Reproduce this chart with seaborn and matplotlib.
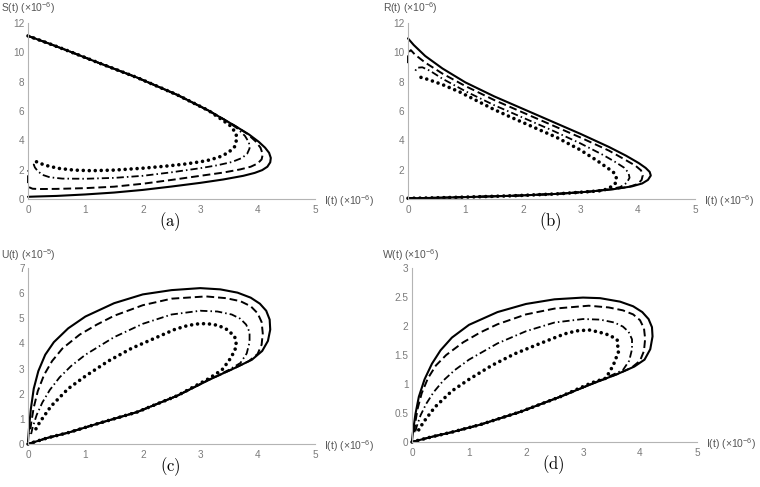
import matplotlib
matplotlib.use("Agg")
import matplotlib.pyplot as plt
from matplotlib.ticker import FuncFormatter
import pandas as pd
import seaborn as sns

# (I, value) points, I in units of 1e-6, in path order

# panel (a): S(t) x 1e-6
S_solid = [(0.0, 11.12), (0.35, 10.62), (0.7, 10.1), (1.2, 9.33), (1.9, 8.28), (2.6, 7.1),
           (3.15, 6.02), (3.6, 5.0), (3.85, 4.4), (4.02, 3.9), (4.13, 3.5), (4.2, 3.15),
           (4.23, 2.8), (4.22, 2.5), (4.17, 2.2), (4.08, 1.97), (3.95, 1.78), (3.75, 1.58),
           (3.4, 1.33), (3.0, 1.1), (2.5, 0.85), (2.0, 0.62), (1.5, 0.44), (1.0, 0.31),
           (0.5, 0.21), (0.15, 0.17), (0.0, 0.15)]
S_dashed = [(0.0, 11.12), (0.35, 10.62), (0.7, 10.1), (1.2, 9.33), (1.9, 8.28), (2.6, 7.1),
            (3.15, 6.02), (3.6, 5.0), (3.82, 4.45), (3.96, 3.95), (4.05, 3.5), (4.09, 3.05),
            (4.07, 2.7), (4.0, 2.42), (3.88, 2.2), (3.7, 2.02), (3.4, 1.8), (3.0, 1.58),
            (2.5, 1.3), (2.0, 1.04), (1.5, 0.84), (1.0, 0.74), (0.5, 0.69), (0.2, 0.68),
            (0.08, 0.7), (0.02, 0.8), (0.0, 1.0), (0.0, 1.95)]
S_dashdot = [(0.0, 11.12), (0.35, 10.62), (0.7, 10.1), (1.2, 9.33), (1.9, 8.28), (2.6, 7.1),
             (3.15, 6.02), (3.45, 5.35), (3.65, 4.8), (3.78, 4.3), (3.85, 3.85), (3.86, 3.45),
             (3.82, 3.1), (3.73, 2.8), (3.55, 2.52), (3.3, 2.3), (3.0, 2.1), (2.5, 1.82),
             (2.0, 1.58), (1.5, 1.44), (1.0, 1.38), (0.6, 1.39), (0.38, 1.48), (0.25, 1.65),
             (0.17, 1.9), (0.12, 2.15), (0.1, 2.35), (0.11, 2.47)]
S_dotted = [(0.0, 11.12), (0.35, 10.62), (0.7, 10.1), (1.2, 9.33), (1.9, 8.28), (2.6, 7.1),
            (3.15, 6.02), (3.4, 5.35), (3.53, 4.98), (3.62, 4.5), (3.64, 4.14), (3.6, 3.57),
            (3.49, 3.16), (3.32, 2.84), (3.11, 2.61), (2.92, 2.49), (2.73, 2.38), (2.4, 2.24),
            (2.0, 2.1), (1.5, 1.97), (1.1, 1.93), (0.8, 1.97), (0.53, 2.09), (0.3, 2.3),
            (0.18, 2.48), (0.12, 2.59)]

# panel (b): R(t) x 1e-6
R_solid = [(0.0, 0.05), (0.35, 0.07), (0.7, 0.1), (1.2, 0.15), (1.9, 0.23), (2.6, 0.35),
           (3.15, 0.5), (3.6, 0.68), (3.9, 0.86), (4.08, 1.06), (4.18, 1.3), (4.23, 1.6),
           (4.21, 1.85), (4.14, 2.12), (4.02, 2.45), (3.8, 2.95), (3.5, 3.55), (3.0, 4.45),
           (2.5, 5.3), (2.0, 6.15), (1.5, 7.0), (1.0, 7.95), (0.6, 8.9), (0.3, 9.75),
           (0.1, 10.5), (0.0, 10.95)]
R_dashed = [(0.0, 0.05), (0.35, 0.07), (0.7, 0.1), (1.2, 0.15), (1.9, 0.23), (2.6, 0.35),
            (3.15, 0.5), (3.6, 0.68), (3.85, 0.83), (4.0, 1.02), (4.07, 1.3), (4.09, 1.62),
            (4.06, 1.95), (3.96, 2.28), (3.75, 2.75), (3.5, 3.3), (3.0, 4.2), (2.5, 5.05),
            (2.0, 5.9), (1.5, 6.75), (1.0, 7.7), (0.6, 8.55), (0.3, 9.3), (0.12, 9.85),
            (0.05, 10.15), (0.01, 10.0), (0.0, 9.7), (0.0, 9.25)]
R_dashdot = [(0.0, 0.05), (0.35, 0.07), (0.7, 0.1), (1.2, 0.15), (1.9, 0.23), (2.6, 0.35),
             (3.15, 0.5), (3.5, 0.65), (3.7, 0.82), (3.81, 1.1), (3.86, 1.45), (3.84, 1.8),
             (3.76, 2.15), (3.6, 2.55), (3.4, 3.0), (3.0, 3.8), (2.5, 4.7), (2.0, 5.55),
             (1.5, 6.4), (1.0, 7.35), (0.6, 8.2), (0.38, 8.75), (0.25, 8.98), (0.16, 8.95),
             (0.12, 8.7)]
R_dotted = [(0.0, 0.05), (0.35, 0.07), (0.7, 0.1), (1.2, 0.15), (1.9, 0.23), (2.6, 0.35),
            (3.15, 0.5), (3.4, 0.58), (3.55, 0.85), (3.62, 1.1), (3.63, 1.43), (3.6, 1.75),
            (3.5, 2.05), (3.3, 2.6), (3.0, 3.35), (2.59, 4.2), (2.3, 4.7), (2.04, 5.15),
            (1.78, 5.6), (1.5, 6.1), (1.2, 6.7), (0.9, 7.3), (0.6, 7.8), (0.35, 8.15),
            (0.15, 8.38)]

# panel (c): U(t) x 1e-5
U_solid = [(0.0, 0.0), (0.35, 0.25), (0.7, 0.45), (1.2, 0.8), (1.9, 1.27), (2.6, 1.92),
           (3.15, 2.55), (3.6, 3.02), (3.9, 3.35), (4.08, 3.7), (4.18, 4.1), (4.22, 4.55),
           (4.21, 4.95), (4.15, 5.3), (4.04, 5.58), (3.88, 5.82), (3.65, 6.02), (3.35, 6.15),
           (3.0, 6.2), (2.5, 6.12), (2.0, 5.95), (1.5, 5.6), (1.0, 5.07), (0.7, 4.6),
           (0.45, 4.05), (0.3, 3.55), (0.18, 2.9), (0.1, 2.2), (0.05, 1.4), (0.02, 0.7),
           (0.0, 0.1)]
U_dashed = [(0.0, 0.0), (0.35, 0.25), (0.7, 0.45), (1.2, 0.8), (1.9, 1.27), (2.6, 1.92),
            (3.15, 2.55), (3.6, 3.02), (3.85, 3.3), (4.0, 3.58), (4.07, 3.95), (4.09, 4.4),
            (4.07, 4.85), (4.0, 5.2), (3.88, 5.48), (3.7, 5.68), (3.45, 5.8), (3.1, 5.87),
            (2.5, 5.78), (2.0, 5.52), (1.5, 5.1), (1.2, 4.75), (0.9, 4.35), (0.6, 3.8),
            (0.42, 3.3), (0.28, 2.75), (0.17, 2.1), (0.1, 1.45), (0.06, 0.9), (0.03, 0.4)]
U_dashdot = [(0.0, 0.0), (0.35, 0.25), (0.7, 0.45), (1.2, 0.8), (1.9, 1.27), (2.6, 1.92),
             (3.15, 2.55), (3.5, 2.95), (3.7, 3.22), (3.81, 3.6), (3.86, 4.05), (3.86, 4.45),
             (3.8, 4.75), (3.7, 4.98), (3.55, 5.15), (3.3, 5.27), (3.0, 5.3), (2.5, 5.15),
             (2.0, 4.78), (1.5, 4.25), (1.0, 3.55), (0.75, 3.1), (0.55, 2.65), (0.38, 2.15),
             (0.25, 1.65), (0.15, 1.15), (0.08, 0.65), (0.05, 0.35)]
U_dotted = [(0.0, 0.0), (0.35, 0.25), (0.7, 0.45), (1.2, 0.8), (1.9, 1.27), (2.6, 1.92),
            (3.15, 2.6), (3.38, 2.95), (3.5, 3.31), (3.6, 3.7), (3.63, 3.95), (3.6, 4.28),
            (3.47, 4.55), (3.31, 4.72), (3.11, 4.79), (2.92, 4.77), (2.73, 4.68), (2.55, 4.55),
            (2.2, 4.2), (1.8, 3.8), (1.4, 3.3), (1.0, 2.7), (0.7, 2.2), (0.4, 1.5),
            (0.2, 0.85), (0.1, 0.45)]

# panel (d): W(t) x 1e-6
W_solid = [(0.0, 0.0), (0.35, 0.09), (0.7, 0.17), (1.2, 0.3), (1.9, 0.52), (2.6, 0.78),
           (3.15, 1.0), (3.6, 1.17), (3.9, 1.3), (4.08, 1.42), (4.18, 1.6), (4.22, 1.82),
           (4.21, 1.98), (4.15, 2.12), (4.04, 2.24), (3.88, 2.34), (3.65, 2.42), (3.3, 2.48),
           (3.0, 2.49), (2.5, 2.46), (2.0, 2.38), (1.5, 2.24), (1.0, 2.02), (0.7, 1.8),
           (0.5, 1.58), (0.35, 1.35), (0.22, 1.08), (0.12, 0.78), (0.06, 0.48), (0.02, 0.2),
           (0.0, 0.02)]
W_dashed = [(0.0, 0.0), (0.35, 0.09), (0.7, 0.17), (1.2, 0.3), (1.9, 0.52), (2.6, 0.78),
            (3.15, 1.0), (3.6, 1.17), (3.85, 1.28), (4.0, 1.4), (4.07, 1.57), (4.09, 1.78),
            (4.07, 1.96), (4.0, 2.1), (3.88, 2.2), (3.7, 2.27), (3.45, 2.32), (3.1, 2.35),
            (2.5, 2.3), (2.0, 2.2), (1.5, 2.03), (1.2, 1.89), (0.9, 1.72), (0.6, 1.5),
            (0.42, 1.32), (0.28, 1.1), (0.17, 0.84), (0.1, 0.58), (0.06, 0.35), (0.04, 0.15)]
W_dashdot = [(0.0, 0.0), (0.35, 0.09), (0.7, 0.17), (1.2, 0.3), (1.9, 0.52), (2.6, 0.78),
             (3.15, 1.0), (3.5, 1.15), (3.7, 1.24), (3.81, 1.4), (3.86, 1.6), (3.86, 1.77),
             (3.8, 1.9), (3.7, 1.99), (3.55, 2.06), (3.3, 2.11), (3.0, 2.12), (2.5, 2.06),
             (2.0, 1.91), (1.5, 1.7), (1.0, 1.42), (0.75, 1.24), (0.55, 1.06), (0.38, 0.86),
             (0.25, 0.66), (0.15, 0.46), (0.08, 0.26), (0.05, 0.14)]
W_dotted = [(0.0, 0.0), (0.35, 0.09), (0.7, 0.17), (1.2, 0.3), (1.9, 0.52), (2.6, 0.78),
            (3.15, 1.02), (3.4, 1.1), (3.53, 1.32), (3.62, 1.55), (3.6, 1.76), (3.47, 1.84),
            (3.3, 1.89), (3.12, 1.93), (2.92, 1.92), (2.73, 1.88), (2.56, 1.82), (2.2, 1.68),
            (1.8, 1.52), (1.4, 1.32), (1.0, 1.08), (0.7, 0.88), (0.4, 0.6), (0.2, 0.34),
            (0.1, 0.18)]

x_ticks = [0, 1, 2, 3, 4, 5]
x_label = "I(t) (×10$^{-6}$)"

AXIS_GREY = "#b4b4b4"
STYLES = {
    "dotted": dict(linestyle=(0, (0.01, 4.3)), linewidth=2.6, dash_capstyle="round"),
    "dashdot": dict(linestyle=(0, (5.2, 2.2, 1.1, 2.2)), linewidth=1.3),
    "dashed": dict(linestyle=(0, (5.6, 2.8)), linewidth=1.4),
    "solid": dict(linestyle="-", linewidth=1.5),
}

# px: axes box in figure pixels (left, bottom, right, top), measured from the top-left
panels = [
    dict(curves={"dotted": S_dotted, "dashdot": S_dashdot, "dashed": S_dashed, "solid": S_solid},
         yticks=[0, 2, 4, 6, 8, 10, 12], ylabel="S(t) (×10$^{-6}$)", caption="(a)",
         px=(28, 199, 315, 23), ylab_x=-27, ylab_up=11),
    dict(curves={"dotted": R_dotted, "dashdot": R_dashdot, "dashed": R_dashed, "solid": R_solid},
         yticks=[0, 2, 4, 6, 8, 10, 12], ylabel="R(t) (×10$^{-6}$)", caption="(b)",
         px=(408, 199, 695, 23), ylab_x=-25, ylab_up=11),
    dict(curves={"dotted": U_dotted, "dashdot": U_dashdot, "dashed": U_dashed, "solid": U_solid},
         yticks=[0, 1, 2, 3, 4, 5, 6, 7], ylabel="U(t) (×10$^{-5}$)", caption="(c)",
         px=(28, 444, 315, 268), ylab_x=-27, ylab_up=9),
    dict(curves={"dotted": W_dotted, "dashdot": W_dashdot, "dashed": W_dashed, "solid": W_solid},
         yticks=[0, 0.5, 1, 1.5, 2, 2.5, 3], ylabel="W(t) (×10$^{-6}$)", caption="(d)",
         px=(412, 442, 697, 268), ylab_x=-30, ylab_up=9),
]

W_PX, H_PX = 760, 487

sns.set_style("white")
plt.rcParams["font.family"] = ["Liberation Sans", "DejaVu Sans"]
plt.rcParams["mathtext.fontset"] = "custom"
plt.rcParams["mathtext.rm"] = "Liberation Sans"
plt.rcParams["mathtext.it"] = "Liberation Sans:italic"
plt.rcParams["lines.scale_dashes"] = False

fig = plt.figure(figsize=(W_PX / 100, H_PX / 100), dpi=100)

for p in panels:
    x0, y0, x1, y1 = p["px"]
    w, h = x1 - x0, y0 - y1
    ax = fig.add_axes([x0 / W_PX, (H_PX - y0) / H_PX, w / W_PX, h / H_PX])

    for name, pts in p["curves"].items():
        df = pd.DataFrame(pts, columns=["I", "Y"])
        sns.lineplot(data=df, x="I", y="Y", sort=False, estimator=None, color="black",
                     ax=ax, clip_on=False, **STYLES[name])

    ax.set_xlim(0, 5)
    ax.set_ylim(p["yticks"][0], p["yticks"][-1])
    ax.set_xticks(x_ticks)
    ax.set_yticks(p["yticks"])
    ax.yaxis.set_major_formatter(FuncFormatter(lambda v, _: f"{v:g}"))
    ax.set_xlabel("")
    ax.set_ylabel("")
    for side in ("top", "right"):
        ax.spines[side].set_visible(False)
    for side in ("left", "bottom"):
        ax.spines[side].set_color(AXIS_GREY)
        ax.spines[side].set_linewidth(0.8)
    ax.tick_params(direction="in", length=2.5, width=0.6, color=AXIS_GREY,
                   labelcolor="#7a7a7a", labelsize=7.2)
    ax.tick_params(axis="x", pad=4)
    ax.tick_params(axis="y", pad=2.5)

    # axis names sit at the axis ends, Mathematica style
    ax.text(p["ylab_x"] / w, 1 + p["ylab_up"] / h, p["ylabel"], transform=ax.transAxes,
            ha="left", va="baseline", fontsize=7.5, color="#555555")
    ax.text(1 + 9 / w, -6 / h, x_label, transform=ax.transAxes,
            ha="left", va="baseline", fontsize=7.5, color="#555555")
    ax.text(0.495, -22.5 / h, r"$\mathrm{" + p["caption"] + "}$", transform=ax.transAxes,
            ha="center", va="center", fontsize=12, math_fontfamily="cm", color="black")

fig.savefig("out.png", dpi=100)
